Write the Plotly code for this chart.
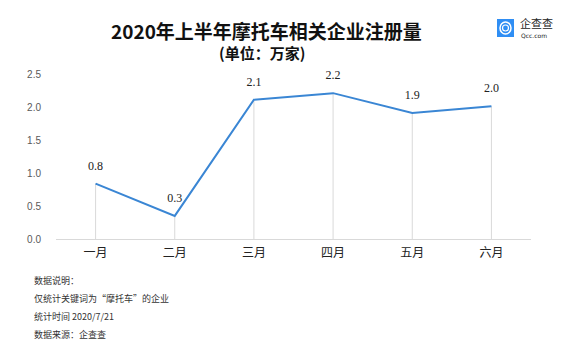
import plotly.graph_objects as go

months = ["一月", "二月", "三月", "四月", "五月", "六月"]
values = [0.84, 0.35, 2.11, 2.21, 1.91, 2.01]
value_labels = ["0.8", "0.3", "2.1", "2.2", "1.9", "2.0"]
y_ticks = [0, 0.5, 1.0, 1.5, 2.0, 2.5]

title_text = "2020年上半年摩托车相关企业注册量"
subtitle_text = "(单位：万家)"
notes = ["数据说明：", "仅统计关键词为“摩托车”的企业", "统计时间 2020/7/21", "数据来源：企查查"]

CJK = "Noto Sans CJK SC"
W, H = 580, 358
ML, MR, MT, MB = 56, 49, 74, 119

fig = go.Figure()

# drop lines from each point to the axis
fig.add_trace(go.Scatter(
    x=months, y=values, mode="markers",
    marker=dict(size=1, color="rgba(0,0,0,0)"),
    error_y=dict(type="data", symmetric=False, array=[0] * len(values),
                 arrayminus=values, width=0, thickness=1, color="#d9d9d9"),
    hoverinfo="skip", showlegend=False,
))

fig.add_trace(go.Scatter(
    x=months, y=values, mode="lines+markers+text",
    line=dict(color="#3a86d4", width=2),
    marker=dict(size=16, color="rgba(0,0,0,0)"),
    text=value_labels, textposition="top center",
    textfont=dict(family="Liberation Serif", size=12, color="#222222"),
    showlegend=False, cliponaxis=False,
))

fig.update_layout(
    width=W, height=H,
    margin=dict(l=ML, r=MR, t=MT, b=MB),
    paper_bgcolor="white", plot_bgcolor="white",
    xaxis=dict(type="category", range=[-0.5, len(months) - 0.5], showgrid=False,
               showline=True, linecolor="#d9d9d9",
               linewidth=1, ticks="", tickfont=dict(family=CJK, size=12, color="#222222"),
               ticklabelstandoff=3),
    yaxis=dict(range=[0, 2.5], tickvals=y_ticks, tickformat=".1f", showgrid=False,
               zeroline=False, showline=False, ticks="",
               tickfont=dict(family="Liberation Sans, Noto Sans", size=10, color="#595959"),
               ticklabelstandoff=14),
)

# convert pixel positions to paper coordinates relative to plot area
def px(xp):
    return (xp - ML) / (W - ML - MR)

def py(yp):
    return (H - MB - yp) / (H - MT - MB)

fig.add_annotation(text="<b>" + title_text + "</b>", xref="paper", yref="paper",
                   x=px(266), y=py(30), xanchor="center", yanchor="middle",
                   showarrow=False, font=dict(family=CJK, size=19, color="#111111"))
fig.add_annotation(text="<b>" + subtitle_text + "</b>", xref="paper", yref="paper",
                   x=px(262), y=py(52), xanchor="center", yanchor="middle",
                   showarrow=False, font=dict(family=CJK, size=15, color="#111111"))

note_y = [280, 298, 316, 334]
for t, yy in zip(notes, note_y):
    fig.add_annotation(text=t, xref="paper", yref="paper", x=px(32), y=py(yy),
                       xanchor="left", yanchor="middle", showarrow=False,
                       font=dict(family=CJK, size=9, color="#333333"))

# logo
fig.add_shape(type="rect", xref="paper", yref="paper",
              x0=px(497), x1=px(514), y0=py(37), y1=py(19),
              fillcolor="#2f8ef4", line=dict(width=0), layer="above")
fig.add_shape(type="circle", xref="paper", yref="paper",
              x0=px(500), x1=px(511), y0=py(34), y1=py(22),
              fillcolor="rgba(0,0,0,0)", line=dict(color="white", width=1.5), layer="above")
fig.add_shape(type="circle", xref="paper", yref="paper",
              x0=px(502.5), x1=px(508.5), y0=py(31), y1=py(25),
              fillcolor="rgba(0,0,0,0)", line=dict(color="white", width=1.2), layer="above")
fig.add_annotation(text="企查查", xref="paper", yref="paper", x=px(518), y=py(23),
                   xanchor="left", yanchor="middle", showarrow=False,
                   font=dict(family=CJK, size=11, color="#222222"))
fig.add_annotation(text="Qcc.com", xref="paper", yref="paper", x=px(519), y=py(35),
                   xanchor="left", yanchor="middle", showarrow=False,
                   font=dict(family="DejaVu Sans", size=6, color="#222222"))

fig.write_html("out.html", config={"displayModeBar": False},
               post_script="document.body.style.margin='0';document.body.style.overflow='hidden';")
